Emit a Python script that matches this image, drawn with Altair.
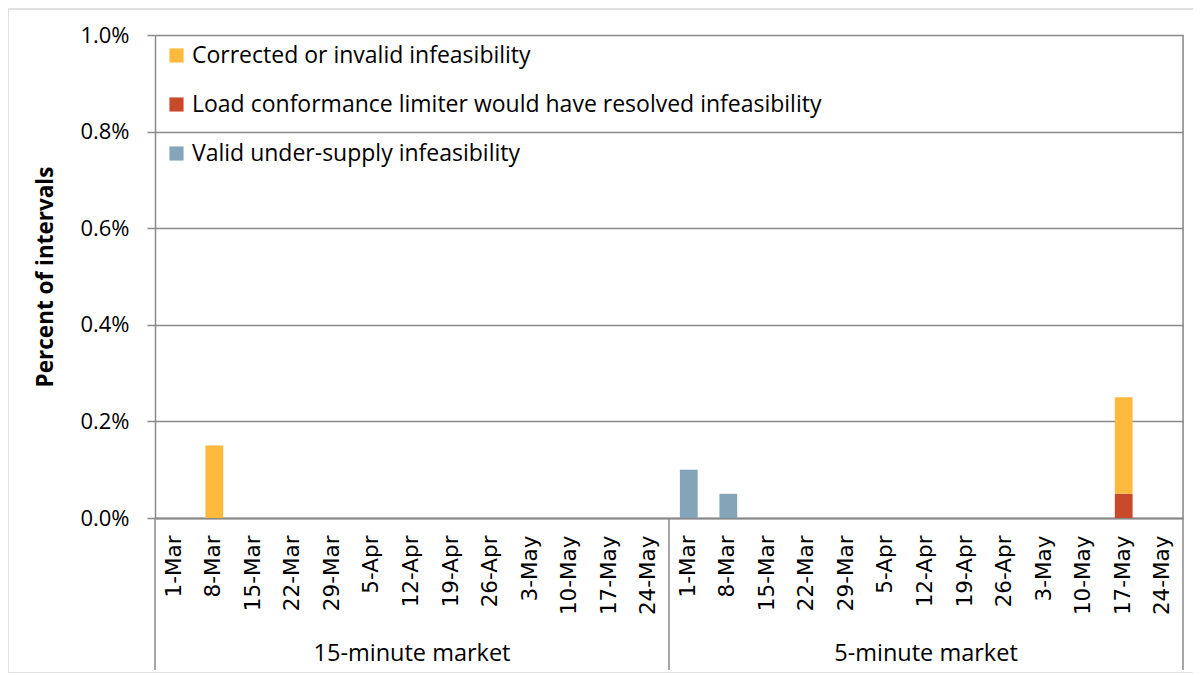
import altair as alt
import pandas as pd

weeks = ["1-Mar", "8-Mar", "15-Mar", "22-Mar", "29-Mar", "5-Apr", "12-Apr",
         "19-Apr", "26-Apr", "3-May", "10-May", "17-May", "24-May"]
markets = ["15-minute market", "5-minute market"]
series = ["Corrected or invalid infeasibility",
          "Load conformance limiter would have resolved infeasibility",
          "Valid under-supply infeasibility"]
colors = ["#FFB93C", "#C84A2B", "#84A4B7"]

# percent of intervals, per week
valid_15 = [0, 0, 0, 0, 0, 0, 0, 0, 0, 0, 0, 0, 0]
lcl_15 = [0, 0, 0, 0, 0, 0, 0, 0, 0, 0, 0, 0, 0]
corr_15 = [0, 0.15, 0, 0, 0, 0, 0, 0, 0, 0, 0, 0, 0]
valid_5 = [0.10, 0.05, 0, 0, 0, 0, 0, 0, 0, 0, 0, 0, 0]
lcl_5 = [0, 0, 0, 0, 0, 0, 0, 0, 0, 0, 0, 0.05, 0]
corr_5 = [0, 0, 0, 0, 0, 0, 0, 0, 0, 0, 0, 0.20, 0]

rows = []
table = {
    markets[0]: [valid_15, lcl_15, corr_15],
    markets[1]: [valid_5, lcl_5, corr_5],
}
stack_names = [series[2], series[1], series[0]]
keys = []
for m in markets:
    for i, w in enumerate(weeks):
        key = f"{m}|{w}"
        keys.append(key)
        for s_i, s in enumerate(stack_names):
            rows.append({"key": key, "series": s, "order": s_i,
                         "value": table[m][s_i][i]})
df = pd.DataFrame(rows)

W, H = 1028, 483
FONT = "Open Sans"

xscale = alt.Scale(domain=keys, paddingInner=0, paddingOuter=0)

bars = alt.Chart(df).mark_bar(width=alt.RelativeBandSize(0.45)).encode(
    x=alt.X("key:N", scale=xscale, title=None,
            axis=alt.Axis(labelExpr="split(datum.label, '|')[1]", labelAngle=270,
                          labelFontSize=21.5, labelFont="DejaVu Sans", labelColor="black",
                          labelPadding=17, ticks=False, domainColor="#898989",
                          domainWidth=2, labelBaseline="middle", labelAlign="right")),
    y=alt.Y("value:Q", stack="zero", scale=alt.Scale(domain=[0, 1], nice=False),
            title="Percent of intervals",
            axis=alt.Axis(values=[0, 0.2, 0.4, 0.6, 0.8, 1.0],
                          labelExpr="format(datum.value, '.1f') + '%'",
                          labelFontSize=22, labelFont=FONT, labelColor="black",
                          labelPadding=18, tickSize=8, tickColor="#898989",
                          tickWidth=1.5, domainColor="#898989", domainWidth=1.5,
                          gridColor="#898989", gridWidth=1.5,
                          titleFontSize=22.5, titleFont=FONT, titleFontWeight="bold",
                          titleColor="black", titlePadding=22)),
    color=alt.Color("series:N", scale=alt.Scale(domain=series, range=colors),
                    title=None,
                    legend=alt.Legend(orient="none", legendX=10, legendY=9,
                                      symbolType="square", symbolSize=200,
                                      symbolStrokeWidth=0, labelFontSize=23,
                                      labelFont=FONT, labelColor="black",
                                      rowPadding=25, labelLimit=900,
                                      symbolOffset=0)),
    order=alt.Order("order:Q"),
)

sep_start = pd.DataFrame({"key": [f"{m}|{weeks[0]}" for m in markets]})
sep_end = pd.DataFrame({"key": [f"{markets[-1]}|{weeks[-1]}"]})
labels_df = pd.DataFrame({"key": [f"{m}|{weeks[6]}" for m in markets],
                          "label": markets})

rule_start = alt.Chart(sep_start).mark_rule(color="#898989", strokeWidth=1.5).encode(
    x=alt.X("key:N", scale=xscale, bandPosition=0),
    y=alt.value(H), y2=alt.value(H + 152))
rule_end = alt.Chart(sep_end).mark_rule(color="#898989", strokeWidth=1.5).encode(
    x=alt.X("key:N", scale=xscale, bandPosition=1),
    y=alt.value(0), y2=alt.value(H + 152))
group_text = alt.Chart(labels_df).mark_text(fontSize=23.5, font=FONT, color="black",
                                            baseline="middle").encode(
    x=alt.X("key:N", scale=xscale, bandPosition=0.5),
    y=alt.value(H + 136), text="label:N")

frame = alt.Chart(pd.DataFrame({"k": [0]})).mark_rect(
    fill="transparent", stroke="#D9D9D9", strokeWidth=1.5).encode(
    x=alt.value(-147), x2=alt.value(W + 40), y=alt.value(-26), y2=alt.value(H + 155))

chart = alt.layer(frame, bars, rule_start, rule_end, group_text).properties(
    width=W, height=H,
    autosize=alt.AutoSizeParams(type="none"),
    padding={"left": 147, "top": 27, "right": 10, "bottom": 155},
).configure_view(strokeWidth=0).configure(background="white")

chart.save("out.html", embed_options={"renderer": "svg", "actions": False})
